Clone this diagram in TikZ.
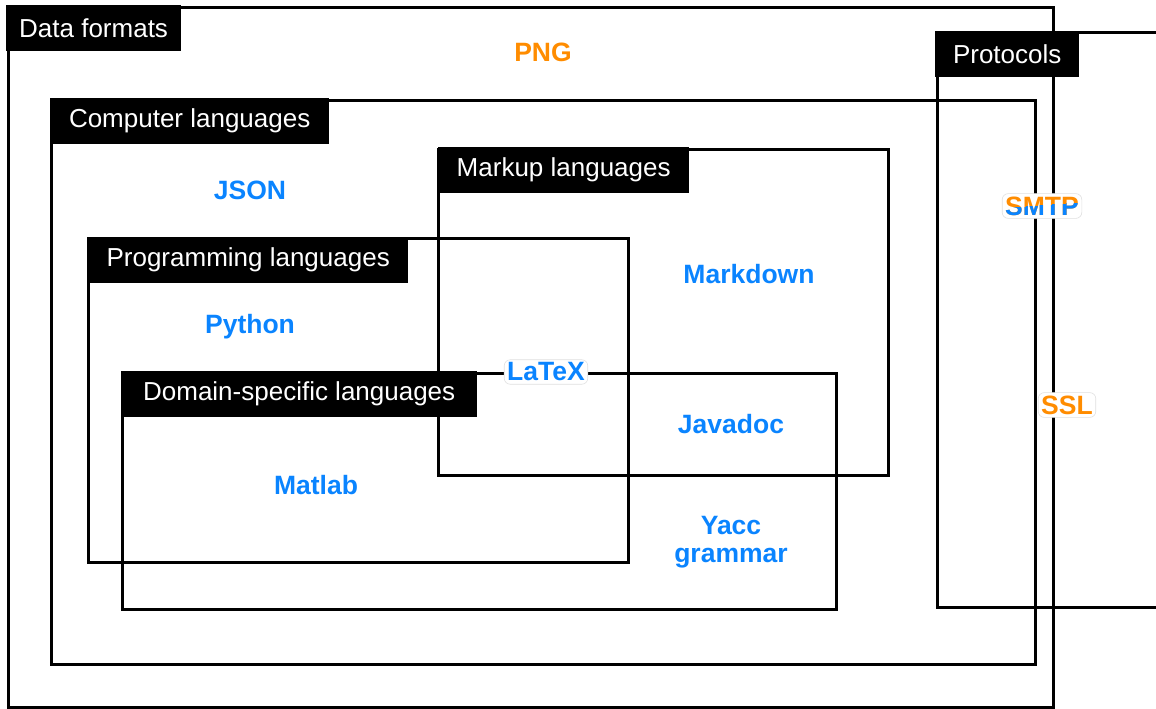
\documentclass[tikz,border=0pt]{standalone}
\usepackage{fontspec}
\setmainfont{Liberation Sans}
\usepackage{tikz}
\usetikzlibrary{positioning}
\definecolor{itemblue}{HTML}{0A84FF}
\definecolor{itemorange}{HTML}{FF8C00}
\begin{document}
\begin{tikzpicture}[x=1pt,y=-1pt]
    \tikzstyle{region}=[draw, line width=3pt, inner sep=0pt, outer sep=0pt, anchor=north west]
    \tikzstyle{tag}=[fill=black, text=white, font=\fontsize{26}{30}\selectfont, inner xsep=13pt, minimum height=46pt, anchor=north west, inner ysep=0pt]
    \tikzstyle{item}=[font=\fontsize{26.5}{28}\selectfont\bfseries, align=center, inner sep=3pt]
    \tikzstyle{blueitem}=[item, text=itemblue]
    \tikzstyle{orangeitem}=[item, text=itemorange]
    \tikzstyle{halo}=[fill=white, draw=black!12, line width=0.6pt, rounded corners=6pt]
    \useasboundingbox (0,0) rectangle (1156,709);

    % Boxes
    \node[region, minimum width=1045pt, minimum height=699pt] (dataformats) at (8,8) {};
    \node[region, minimum width=984pt, minimum height=564pt] (computer) at (51,100) {};
    \node[region, minimum width=450pt, minimum height=326pt] (markup) at (438,149) {};
    \node[region, minimum width=540pt, minimum height=324pt] (programming) at (88,238) {};
    \node[region, minimum width=714pt, minimum height=236pt] (domain) at (122,373) {};
    \coordinate (protocolsne) at (1160,33);
    \coordinate (protocolsse) at (1160,607);
    \draw[line width=3pt] (protocolsne) -| (937,607) -- (protocolsse);

    % Tags
    \node[tag] (dataformatstag) at ([shift={(-2,-3)}]dataformats.north west) {Data formats};
    \node[tag, minimum width=144pt] (protocolstag) at (935,31) {Protocols};
    \node[tag, minimum width=279pt] (computertag) at ([shift={(-1,-2)}]computer.north west) {Computer languages};
    \node[tag, minimum width=251pt] (markuptag) at ([shift={(0,-2)}]markup.north west) {Markup languages};
    \node[tag, minimum width=320pt] (programmingtag) at ([shift={(0,-1)}]programming.north west) {Programming languages};
    \node[tag, minimum width=356pt] (domaintag) at ([shift={(-1,-2)}]domain.north west) {Domain-specific languages};

    % Items
    \node[orangeitem] (png) at (543,52) {PNG};
    \node[blueitem] (json) at (250,190) {JSON};
    \node[blueitem] (markdown) at (749,274) {Markdown};
    \node[blueitem] (python) at (250,327) {Python};
    \node[blueitem, halo] (latex) at (546,372) {LaTeX};
    \node[blueitem] (javadoc) at (731,424) {Javadoc};
    \node[blueitem] (matlab) at (316,485) {Matlab};
    \node[blueitem] (yacc) at (731,542) {Yacc\\grammar};
    \node[orangeitem, halo] (ssl) at (1067,405) {SSL};
    \node[orangeitem, halo] (smtp) at (1042,206) {SMTP};
    \begin{scope}
        \clip ([yshift=-2pt]smtp.west) -- ([yshift=4pt]smtp.east) -- (smtp.south east) -- (smtp.south west) -- cycle;
        \node[blueitem] (smtplow) at (smtp) {SMTP};
    \end{scope}
\end{tikzpicture}
\end{document}
